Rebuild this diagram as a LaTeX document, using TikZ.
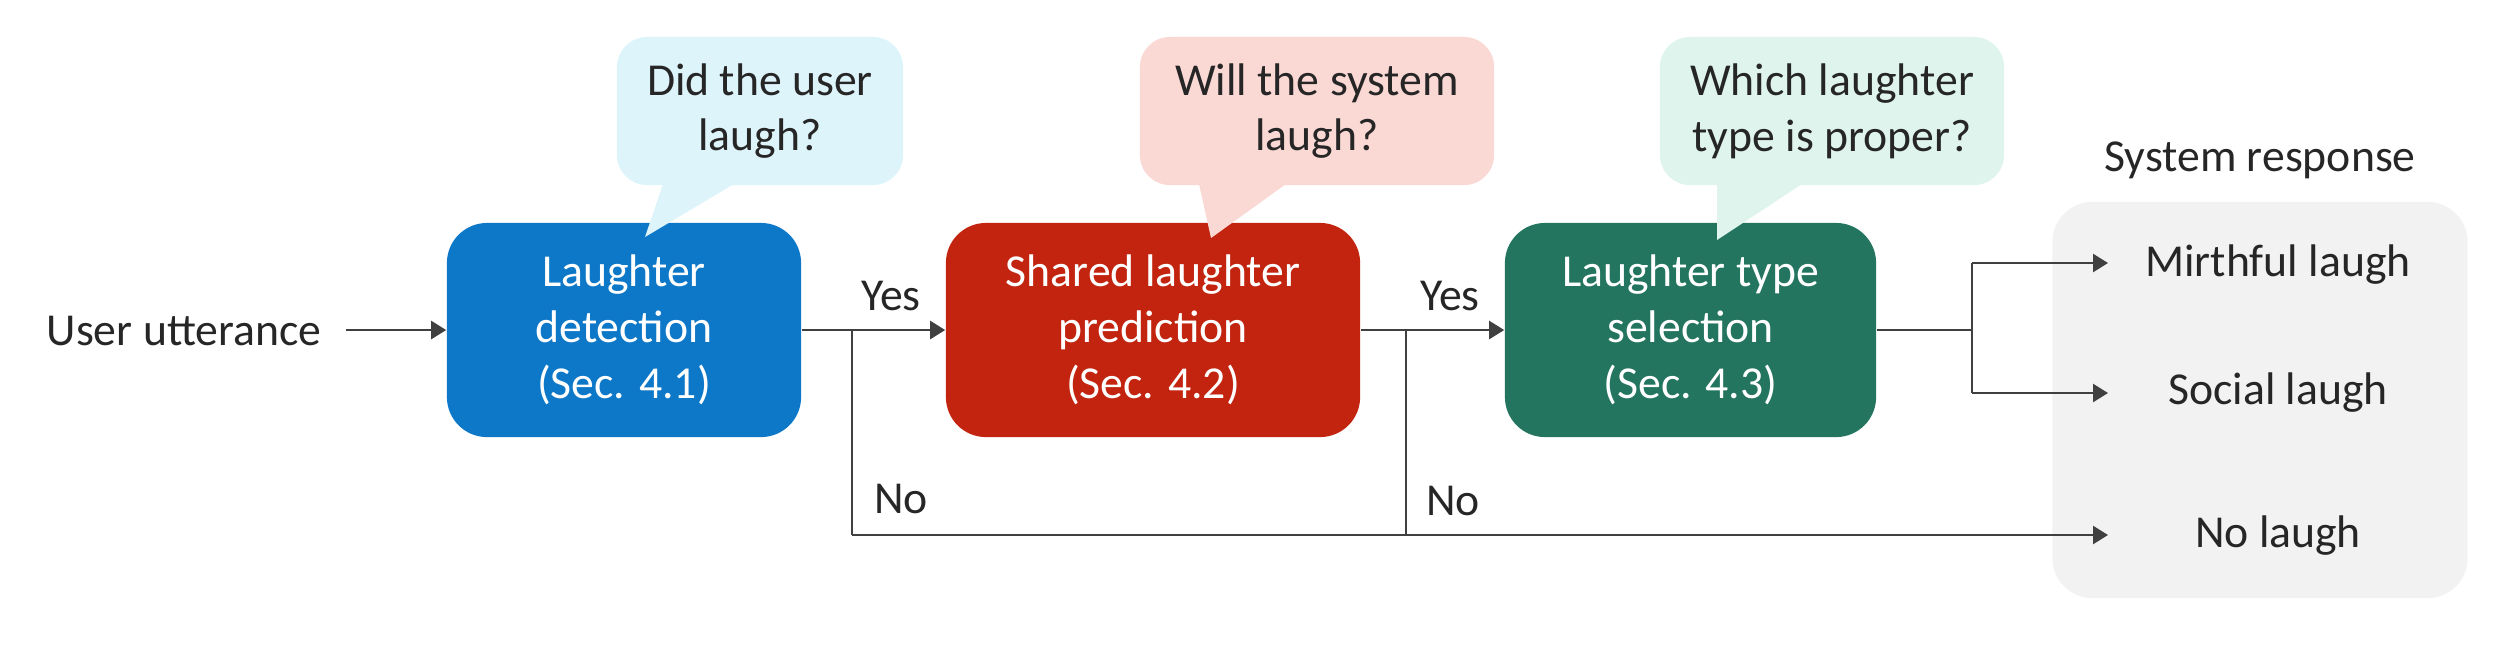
\documentclass[tikz,border=0pt]{standalone}
\usepackage{fontspec}
\setmainfont{Carlito}
\usetikzlibrary{arrows.meta}
\definecolor{txt}{HTML}{262626}
\definecolor{ln}{HTML}{404040}
\definecolor{cblue}{HTML}{0E78C8}
\definecolor{cred}{HTML}{C2240F}
\definecolor{cgreen}{HTML}{24755F}
\definecolor{bblue}{HTML}{DEF4FB}
\definecolor{bred}{HTML}{FAD9D4}
\definecolor{bgreen}{HTML}{E0F4EE}
\definecolor{gbox}{HTML}{F2F2F2}
\tikzset{
  every node/.style={font=\fontsize{13}{15.9}\selectfont, text=txt},
  procbox/.style={rounded corners=4mm, minimum width=3.54cm, minimum height=2.14cm, align=center, text=white, inner sep=0pt},
  bubble/.style={rounded corners=3mm, minimum height=1.48cm, align=center, inner sep=0pt},
  conn/.style={draw=ln, line width=0.7pt, -{Triangle[length=1.5mm,width=1.8mm]}},
  plain/.style={draw=ln, line width=0.7pt},
  lbl/.style={inner sep=0pt}
}
\begin{document}
\begin{tikzpicture}[x=0.01cm, y=-0.01cm]
\useasboundingbox (0,0) rectangle (2518,644);
% gray response box
\node[fill=gbox, rounded corners=4mm, minimum width=4.15cm, minimum height=3.96cm, inner sep=0pt] (resp) at (2260,400) {};
\node[lbl] (resptitle) at (2260,160) {System response};
% process boxes
\node[procbox, fill=cblue] (det) at (624,330) {Laughter\\detection\\(Sec. 4.1)};
\node[procbox, fill=cred, minimum width=4.14cm] (pred) at (1153,330) {Shared laughter\\prediction\\(Sec. 4.2)};
\node[procbox, fill=cgreen, minimum width=3.71cm] (sel) at (1690.5,330) {Laughter type\\selection\\(Sec. 4.3)};
% bubbles
\node[bubble, fill=bblue, minimum width=2.86cm] (q1) at (760,111) {Did the user\\laugh?};
\fill[bblue] (663,184) -- (734,184) -- (645,237) -- cycle;
\node[bubble, fill=bred, minimum width=3.54cm] (q2) at (1317,111) {Will the system\\laugh?};
\fill[bred] (1199,184) -- (1286,184) -- (1211,238) -- cycle;
\node[bubble, fill=bgreen, minimum width=3.44cm] (q3) at (1832,111) {Which laughter\\type is proper?};
\fill[bgreen] (1717,184) -- (1802,184) -- (1717,240) -- cycle;
% input
\node[lbl] (user) at (184,331) {User utterance};
% outputs
\node[lbl] (mirth) at (2278,265) {Mirthful laugh};
\node[lbl] (social) at (2278,393) {Social laugh};
\node[lbl] (nolaugh) at (2278,536) {No laugh};
% coordinates
\coordinate (b1) at (852,330);
\coordinate (b1d) at (852,535);
\coordinate (b2) at (1406,330);
\coordinate (b2d) at (1406,535);
\coordinate (nend) at (2108,535);
\coordinate (s1) at (1972,330);
\coordinate (s1u) at (1972,263);
\coordinate (s1d) at (1972,393);
\coordinate (mend) at (2108,263);
\coordinate (send) at (2108,393);
% connectors
\draw[conn] (346,330) -- (det.west);
\draw[conn] (det.east) -- (pred.west);
\draw[conn] (pred.east) -- (sel.west);
\draw[plain] (b1) -- (b1d);
\draw[plain] (b2) -- (b2d);
\draw[conn] (b1d) -- (nend);
\draw[plain] (sel.east) -- (s1);
\draw[plain] (s1u) -- (s1d);
\draw[conn] (s1u) -- (mend);
\draw[conn] (s1d) -- (send);
% labels
\node[lbl] (yes1) at (891,296) {Yes};
\node[lbl] (yes2) at (1450,296) {Yes};
\node[lbl] (no1) at (901,499) {No};
\node[lbl] (no2) at (1453,501) {No};
\end{tikzpicture}
\end{document}
